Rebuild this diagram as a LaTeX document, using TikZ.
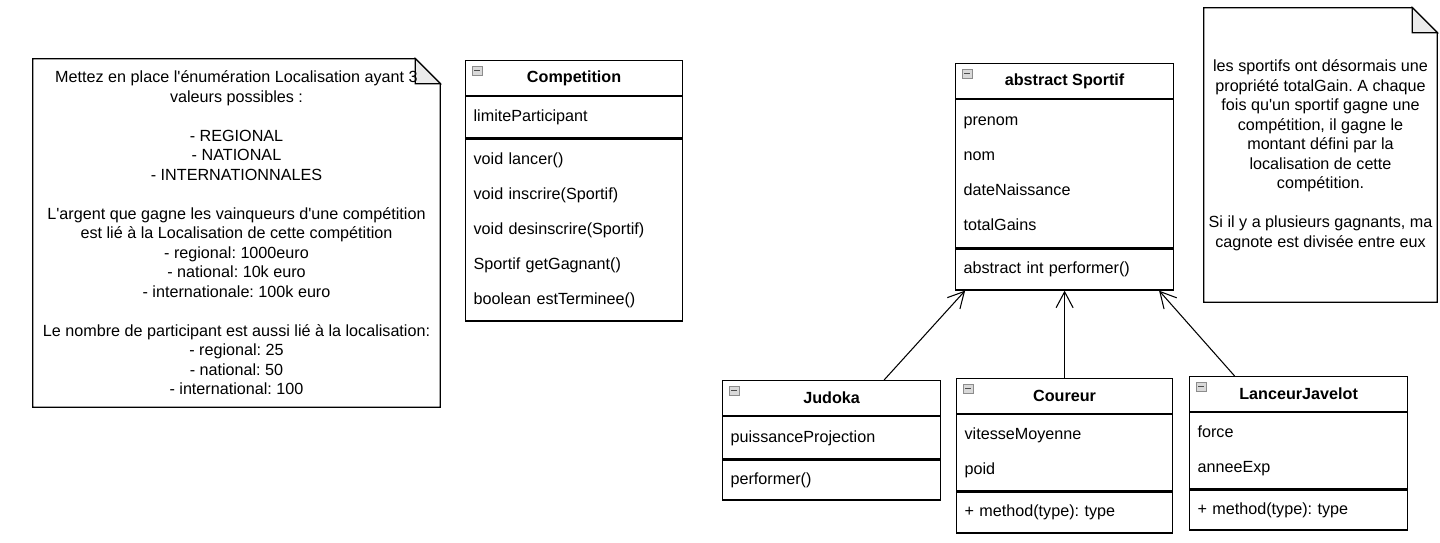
\documentclass[tikz,border=0pt]{standalone}
\usepackage{fontspec}
\setmainfont{Liberation Sans}
\usetikzlibrary{arrows.meta,positioning,backgrounds}
\frenchspacing
\newcommand\apos{\textquotesingle}

\tikzset{
	umlhead/.style 2 args={draw, anchor=north west, minimum width=#1, minimum height=#2, inner sep=0pt, line width=0.7pt, font=\fontsize{9.2}{11}\selectfont\bfseries},
	umlpart/.style 2 args={draw, anchor=north west, align=left, text width=#1, minimum height=#2, inner xsep=0.16cm, inner ysep=0pt, line width=0.7pt, font=\fontsize{9.2}{19.9}\selectfont},
	notetext/.style={align=center, inner sep=0pt, font=\fontsize{9.2}{11.1}\selectfont},
	notebox/.style={draw, fill=white, line width=0.7pt},
	fold/.style={draw, fill=black!8, line width=0.7pt},
	toggle/.style={draw=black!45, fill=black!15, line width=0.4pt},
	herit/.style={-{Straight Barb[length=3.2mm,width=3.4mm]}, line width=0.6pt}
}

\begin{document}
\begin{tikzpicture}[x=0.02cm, y=-0.02cm]

		\useasboundingbox (0,0) rectangle (1440,543);

		\node[notetext, minimum width=8.14cm, minimum height=6.96cm] (enumnote) at (236.5,233) {Mettez en place l\apos énumération Localisation ayant 3\\valeurs possibles :\\[11.1pt]- REGIONAL\\- NATIONAL\\- INTERNATIONNALES\\[11.1pt]L\apos argent que gagne les vainqueurs d\apos une compétition\\est lié à la Localisation de cette compétition\\- regional: 1000euro\\- national: 10k euro\\- internationale: 100k euro\\[11.1pt]Le nombre de participant est aussi lié à la localisation:\\- regional: 25\\- national: 50\\- international: 100};
		\node[notetext, minimum width=4.66cm, minimum height=5.88cm] (gainnote) at (1320.5,155) {les sportifs ont désormais une\\propriété totalGain. A chaque\\fois qu\apos un sportif gagne une\\compétition, il gagne le\\montant défini par la\\localisation de cette\\compétition.\\[11.1pt]Si il y a plusieurs gagnants, ma\\cagnote est divisée entre eux};

		\begin{scope}[on background layer]
			\foreach \n in {enumnote,gainnote}{
				\draw[notebox] (\n.north west) -- ([xshift=-0.5cm]\n.north east) -- ([yshift=-0.5cm]\n.north east) -- (\n.south east) -- (\n.south west) -- cycle;
				\draw[fold] ([xshift=-0.5cm]\n.north east) -- ([xshift=-0.5cm,yshift=-0.5cm]\n.north east) -- ([yshift=-0.5cm]\n.north east) -- cycle;
			}
		\end{scope}

		\node[umlhead={4.34cm}{0.7cm}] (comphead) at (465,60) {Competition};
		\node[umlpart={4.02cm}{0.82cm}] (compattr) at (comphead.south west) {limiteParticipant};
		\node[umlpart={4.02cm}{3.64cm}] (compops) at (compattr.south west) {void lancer()\\void inscrire(Sportif)\\void desinscrire(Sportif)\\Sportif getGagnant()\\boolean estTerminee()};

		\node[umlhead={4.36cm}{0.7cm}] (sportifhead) at (955,63) {abstract Sportif};
		\node[umlpart={4.04cm}{2.96cm}] (sportifattr) at (sportifhead.south west) {prenom\\nom\\dateNaissance\\totalGains};
		\node[umlpart={4.04cm}{0.82cm}] (sportifops) at (sportifattr.south west) {abstract int performer()};

		\node[umlhead={4.36cm}{0.7cm}] (judokahead) at (722,380) {Judoka};
		\node[umlpart={4.04cm}{0.84cm}] (judokaattr) at (judokahead.south west) {puissanceProjection};
		\node[umlpart={4.04cm}{0.8cm}] (judokaops) at (judokaattr.south west) {performer()};

		\node[umlhead={4.32cm}{0.7cm}] (coureurhead) at (956,378) {Coureur};
		\node[umlpart={4.0cm}{1.52cm}] (coureurattr) at (coureurhead.south west) {vitesseMoyenne\\poid};
		\node[umlpart={4.0cm}{0.82cm}] (coureurops) at (coureurattr.south west) {+ method(type): type};

		\node[umlhead={4.36cm}{0.7cm}] (lanceurhead) at (1189,376) {LanceurJavelot};
		\node[umlpart={4.04cm}{1.52cm}] (lanceurattr) at (lanceurhead.south west) {force\\anneeExp};
		\node[umlpart={4.04cm}{0.8cm}] (lanceurops) at (lanceurattr.south west) {+ method(type): type};

		\foreach \c in {comphead,sportifhead,judokahead,coureurhead,lanceurhead}{
			\draw[toggle] ([shift={(7,6)}]\c.north west) rectangle ++(10,9);
			\draw[black!70, line width=0.8pt] ([shift={(9,10.5)}]\c.north west) -- ++(6,0);
		}

		\draw[herit] ([xshift=1.05cm]judokahead.north) -- ([xshift=-1.99cm]sportifops.south);
		\draw[herit] (coureurhead.north) -- (coureurhead.north |- sportifops.south);
		\draw[herit] ([xshift=-1.28cm]lanceurhead.north) -- ([xshift=1.89cm]sportifops.south);
	\end{tikzpicture}
\end{document}
